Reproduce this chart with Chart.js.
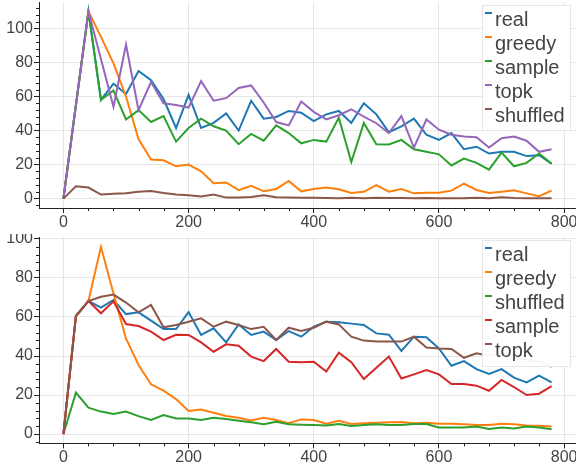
<!DOCTYPE html>
<html>
<head>
<meta charset="utf-8">
<script src="https://cdn.jsdelivr.net/npm/chart.js@4.4.1/dist/chart.umd.min.js"></script>
<style>
  html, body { margin: 0; padding: 0; background: #fff; }
  #wrap { position: relative; width: 576px; height: 463px; overflow: hidden; }
  .panel { position: absolute; left: 0; width: 576px; }
  canvas { display: block; }
</style>
</head>
<body>
<div id="wrap">
  <div class="panel" style="top:0;height:230px"><canvas id="topChart" width="576" height="230"></canvas></div>
  <div class="panel" style="top:234px;height:229px"><canvas id="bottomChart" width="576" height="229"></canvas></div>
</div>
<script>
// training step (shared x values of both panels)
const steps = [0, 20, 40, 60, 80, 100, 120, 140, 160, 180, 200, 220, 240, 260, 280, 300, 320, 340, 360, 380,
               400, 420, 440, 460, 480, 500, 520, 540, 560, 580, 600, 620, 640, 660, 680, 700, 720, 740, 760, 780];

// upper panel
const topNames = ["real", "greedy", "sample", "topk", "shuffled"];
const topReal = [0, 55, 110, 58, 67.5, 61.5, 75, 69.5, 58.5, 41.5, 61, 41.5, 44.5, 50, 40, 57.5, 47, 48, 51.5, 50.5,
                 45.5, 49.5, 51.5, 44.5, 56, 49.5, 39, 42.5, 47, 37.5, 34.5, 38.5, 29, 30.5, 26.5, 27.5, 27.5, 25, 25.5, 20.5];
const topGreedy = [0, 55, 110, 95, 79.5, 60, 35, 23, 22.5, 19, 20, 16, 9, 9.5, 5, 7.5, 4.3, 5.7, 10.4, 4.3,
                   5.7, 6.5, 5.5, 3.3, 4, 8, 4.1, 5.6, 3.1, 3.5, 3.5, 4.7, 8.8, 5.1, 3.3, 4.1, 4.9, 3.1, 1.4, 4.7];
const topSample = [0, 55, 110, 58, 63.5, 46.5, 52, 45, 48.5, 33.5, 41.5, 47, 42.5, 40, 32, 38, 34, 43, 38.5, 32.5,
                   34.5, 33.5, 47.5, 21.5, 44.5, 32, 31.8, 34.5, 29, 27.5, 26, 19.5, 23.5, 21, 17, 27, 19, 21, 26.5, 20.5];
const topTopk = [0, 55, 110, 82, 54, 90.5, 52, 68.5, 56, 55, 53.5, 69, 57.5, 59, 65, 66.5, 56.5, 45, 43, 57,
                 51, 46.5, 49, 52.5, 48.2, 44.3, 38.5, 48.5, 30, 46.5, 40.5, 37.5, 36.5, 36, 30, 35.5, 36.5, 34, 27.5, 29];
const topShuffled = [0, 7.3, 6.5, 2.4, 2.9, 3.1, 4.1, 4.5, 3.3, 2.4, 2, 1.2, 2.4, 0.6, 0.6, 1, 2, 0.8, 0.6, 0.5,
                     0.5, 0.4, 0.3, 0.5, 0.3, 0.5, 0.4, 0.4, 0.3, 0.4, 0.3, 0.3, 0.3, 0.5, 0.2, 0.8, 0.4, 0.3, 0.2, 0.2];

// lower panel
const bottomNames = ["real", "greedy", "shuffled", "sample", "topk"];
const botReal = [0, 60.5, 68.2, 64.8, 68.7, 61.5, 62.4, 58.1, 53.8, 53.8, 62.5, 50.8, 54.2, 47, 56.2, 50.8, 52.5, 48.2, 52.8, 49.9,
                 55, 57.6, 57.3, 56.6, 55.9, 51.6, 50.9, 42.6, 49.9, 49.6, 43.9, 35, 37.4, 33.3, 30.8, 33.3, 28.9, 26.5, 29.9, 26.5];
const botGreedy = [0, 60.5, 68.2, 96, 72, 49, 35.4, 25.5, 22.2, 17.9, 11.8, 12.6, 10.9, 9.2, 8.4, 7, 8.4, 7.2, 5.5, 7.5,
                   7.2, 5.3, 6.8, 5.1, 5.5, 5.8, 6.1, 6.2, 5.5, 5.8, 5.3, 5.3, 5, 4.6, 4.6, 5.3, 5, 4.4, 4.3, 3.9];
const botShuffled = [0, 21.2, 13.5, 11.5, 10.3, 11.5, 9.2, 7.2, 9.7, 8, 8, 7.2, 8.4, 7.7, 6.8, 6, 5, 6.3, 5, 4.8,
                     4.6, 4.4, 5.1, 4.1, 4.6, 5, 4.6, 4.6, 5.1, 5.1, 3.4, 3.4, 3.4, 3.8, 2.6, 3.4, 2.9, 3.8, 3.4, 2.4];
const botSample = [0, 60.5, 68.2, 61.9, 68, 56.4, 55.4, 52.5, 48.2, 50.9, 50.8, 47, 42.2, 46, 45.3, 39.7, 37.4, 43.6, 37.1, 36.8,
                   37.1, 32, 41.7, 36.8, 28.2, 34, 39.7, 28.5, 30.6, 32.8, 30.6, 25.6, 25.6, 24.8, 22.2, 27.7, 24.1, 20, 20.7, 24.6];
const botTopk = [0, 60.5, 68.2, 70.4, 71.5, 67.4, 62.4, 66.2, 54.7, 55.9, 57.6, 59.3, 55, 57.6, 55.9, 53.8, 55, 48.2, 54.5, 52.8,
                 54.5, 57.6, 56.2, 49.9, 47.9, 47.4, 47.4, 47.4, 49.9, 44.4, 43.9, 43.6, 39.1, 41.4, 40.2, 41, 39.5, 38, 37, 34.5];

// axis tick values
const xTickStep = 200;
const yTickStep = 20;

const C = {
  blue: "#1f77b4", orange: "#ff7f0e", green: "#2ca02c",
  red: "#d62728", purple: "#9467bd", brown: "#8c564b"
};
const FONT = "'Liberation Sans', Arial, Helvetica, sans-serif";
const TEXT = "#444444";
const AXIS = "#222222";
const GRID = "#e6e6e6";

function series(names, values, colors) {
  const n = names.length;
  return names.map((name, i) => ({
    label: name,
    data: steps.map((s, k) => ({ x: s, y: values[i][k] })),
    borderColor: colors[i],
    backgroundColor: colors[i],
    borderWidth: 2,
    pointRadius: 0,
    pointHoverRadius: 0,
    tension: 0,
    fill: false,
    order: n - i   // later series drawn on top
  }));
}

// small outside minor ticks on both axes
const minorTicks = {
  id: "minorTicks",
  afterDraw(chart) {
    const ctx = chart.ctx, xs = chart.scales.x, ys = chart.scales.y, a = chart.chartArea;
    ctx.save();
    ctx.strokeStyle = AXIS;
    ctx.lineWidth = 1;
    ctx.beginPath();
    const xm = xTickStep / 5, ym = yTickStep / 5;
    for (let v = Math.ceil(xs.min / xm) * xm; v <= xs.max; v += xm) {
      if (Math.abs(v % xTickStep) < 1e-9) continue;
      const px = Math.round(xs.getPixelForValue(v)) + 0.5;
      ctx.moveTo(px, a.bottom);
      ctx.lineTo(px, a.bottom + 3);
    }
    for (let v = Math.ceil(ys.min / ym) * ym; v <= ys.max; v += ym) {
      const r = Math.abs(v % yTickStep);
      if (r < 1e-6 || Math.abs(r - yTickStep) < 1e-6) continue;
      const py = Math.round(ys.getPixelForValue(v)) + 0.5;
      ctx.moveTo(a.left, py);
      ctx.lineTo(a.left - 3, py);
    }
    ctx.stroke();
    ctx.restore();
  }
};

// legend box inside the plot, upper right
const insideLegend = {
  id: "insideLegend",
  afterDatasetsDraw(chart, args, o) {
    const ctx = chart.ctx;
    ctx.save();
    ctx.fillStyle = "rgba(255,255,255,0.95)";
    ctx.fillRect(o.x, o.y, o.w, o.h);
    ctx.strokeStyle = GRID;
    ctx.lineWidth = 1;
    ctx.strokeRect(o.x + 0.5, o.y + 0.5, o.w - 1, o.h - 1);
    ctx.font = "20px " + FONT;
    ctx.textBaseline = "alphabetic";
    ctx.textAlign = "left";
    chart.data.datasets.forEach((ds, i) => {
      const base = o.y + o.first + i * o.step;
      ctx.strokeStyle = ds.borderColor;
      ctx.lineWidth = 2;
      ctx.beginPath();
      ctx.moveTo(o.x + 3, base - 13);
      ctx.lineTo(o.x + 10, base - 13);
      ctx.stroke();
      ctx.fillStyle = TEXT;
      ctx.fillText(ds.label, o.x + 13, base);
    });
    ctx.restore();
  }
};

function scales(yMin, yMax, xHeight) {
  return {
    x: {
      type: "linear", min: -39, max: 819,
      ticks: { stepSize: xTickStep, includeBounds: false, autoSkip: false, maxRotation: 0,
               color: TEXT, font: { family: FONT, size: 16 }, padding: 0 },
      grid: { color: GRID, lineWidth: 1, tickColor: AXIS, tickLength: 5, drawTicks: true },
      border: { display: true, color: AXIS, width: 1 },
      afterFit(s) { s.height = xHeight; s.paddingLeft = 0; s.paddingRight = 0; }
    },
    y: {
      type: "linear", min: yMin, max: yMax,
      ticks: { stepSize: yTickStep, includeBounds: false, autoSkip: false,
               color: TEXT, font: { family: FONT, size: 16 }, padding: 1 },
      grid: { color: GRID, lineWidth: 1, tickColor: AXIS, tickLength: 5, drawTicks: true },
      border: { display: true, color: AXIS, width: 1 },
      afterFit(s) { s.width = 39; s.paddingTop = 0; s.paddingBottom = 0; }
    }
  };
}

function makeChart(id, names, values, colors, yMin, yMax, padTop, xHeight, legendBox) {
  return new Chart(document.getElementById(id), {
    type: "line",
    data: { datasets: series(names, values, colors) },
    options: {
      responsive: false,
      animation: false,
      devicePixelRatio: 1,
      layout: { padding: { top: padTop, right: 0, bottom: 0, left: 0 } },
      scales: scales(yMin, yMax, xHeight),
      plugins: {
        legend: { display: false },
        tooltip: { enabled: false },
        insideLegend: legendBox
      }
    },
    plugins: [minorTicks, insideLegend]
  });
}

makeChart("topChart", topNames,
  [topReal, topGreedy, topSample, topTopk, topShuffled],
  [C.blue, C.orange, C.green, C.purple, C.brown],
  -5.5, 115.5, 2, 22,
  { x: 482, y: 5, w: 89, h: 126, first: 21, step: 24 });

makeChart("bottomChart", bottomNames,
  [botReal, botGreedy, botShuffled, botSample, botTopk],
  [C.blue, C.orange, C.green, C.red, C.brown],
  -4.8, 100.8, 3.4, 19.6,
  { x: 482, y: 6, w: 89, h: 127, first: 21, step: 24 });
</script>
</body>
</html>
